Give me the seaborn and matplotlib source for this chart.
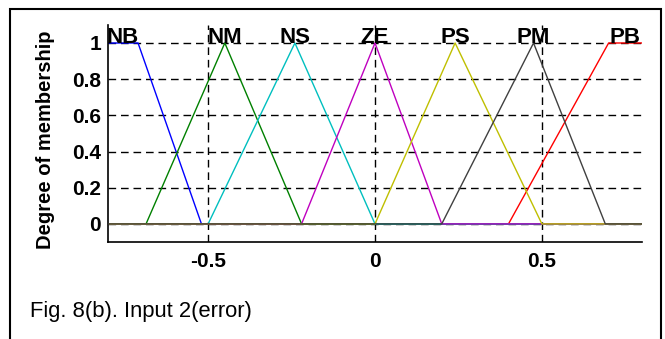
import matplotlib
matplotlib.use("Agg")
import matplotlib.pyplot as plt
import seaborn as sns
import pandas as pd
from matplotlib.patches import Rectangle

# ---- data (membership function breakpoints) ----
mf_names = ["NB", "NM", "NS", "ZE", "PS", "PM", "PB"]
nb_x = [-0.8, -0.71, -0.52, 0.8]
nb_y = [1, 1, 0, 0]
nm_x = [-0.8, -0.686, -0.45, -0.22, 0.8]
nm_y = [0, 0, 1, 0, 0]
ns_x = [-0.8, -0.5, -0.24, 0.0, 0.8]
ns_y = [0, 0, 1, 0, 0]
ze_x = [-0.8, -0.22, 0.0, 0.2, 0.8]
ze_y = [0, 0, 1, 0, 0]
ps_x = [-0.8, 0.0, 0.24, 0.5, 0.8]
ps_y = [0, 0, 1, 0, 0]
pm_x = [-0.8, 0.2, 0.475, 0.69, 0.8]
pm_y = [0, 0, 1, 0, 0]
pb_x = [-0.8, 0.4, 0.7, 0.8]
pb_y = [0, 0, 1, 1]

x_ticks = [-0.5, 0, 0.5]
x_ticklabels = ["-0.5", "0", "0.5"]
y_ticks = [0, 0.2, 0.4, 0.6, 0.8, 1]
y_ticklabels = ["0", "0.2", "0.4", "0.6", "0.8", "1"]
y_label = "Degree of membership"
caption = "Fig. 8(b). Input 2(error)"

mf_x = [nb_x, nm_x, ns_x, ze_x, ps_x, pm_x, pb_x]
mf_y = [nb_y, nm_y, ns_y, ze_y, ps_y, pm_y, pb_y]
colors = {"NB": (0, 0, 1), "NM": (0, 0.5, 0), "NS": (0, 0.75, 0.75),
          "ZE": (0.75, 0, 0.75), "PS": (0.75, 0.75, 0), "PM": (0.25, 0.25, 0.25),
          "PB": (1, 0, 0)}
zorders = {"PB": 2.0, "NB": 2.1, "NM": 2.2, "NS": 2.3, "ZE": 2.4, "PS": 2.5, "PM": 2.6}

frames = []
for name, xs, ys in zip(mf_names, mf_x, mf_y):
    frames.append(pd.DataFrame({"x": xs, "mu": ys, "mf": name, "order": range(len(xs))}))
df = pd.concat(frames, ignore_index=True)

sns.set_style("white")
plt.rcParams["font.family"] = ["Liberation Sans", "DejaVu Sans"]
plt.rcParams["text.color"] = "black"
plt.rcParams["axes.labelcolor"] = "black"
plt.rcParams["xtick.color"] = "black"
plt.rcParams["ytick.color"] = "black"

fig = plt.figure(figsize=(6.65, 3.39), dpi=100)
ax = fig.add_axes([108 / 665, 1 - 242 / 339, (642 - 108) / 665, (242 - 24.9) / 339])

for name in mf_names:
    sub = df[df["mf"] == name]
    sns.lineplot(data=sub, x="x", y="mu", sort=False, color=colors[name],
                 linewidth=1.0, ax=ax, zorder=zorders[name], estimator=None)
    peak = sub[sub["mu"] == 1]["x"].mean()
    ax.text(peak, 1.0, name, ha="center", va="baseline", fontsize=16,
            fontweight="bold", color="black", zorder=5)

ax.set_xlim(-0.8, 0.8)
ax.set_ylim(-0.1, 1.1)
ax.set_xticks(x_ticks)
ax.set_xticklabels(x_ticklabels, fontsize=15, fontweight="bold", color="black")
ax.set_yticks(y_ticks)
ax.set_yticklabels(y_ticklabels, fontsize=15, fontweight="bold", color="black")
ax.set_xlabel("")
ax.set_ylabel(y_label, fontsize=14.5, fontweight="bold", color="black")
ax.yaxis.set_label_coords(-0.099, 0.47)
ax.tick_params(axis="both", direction="in", length=3, width=1, colors="black")
ax.tick_params(axis="x", pad=7)
ax.tick_params(axis="y", pad=5)
ax.grid(True, color="black", linestyle=(0, (5.5, 3.5)), linewidth=1.0)
ax.set_axisbelow(True)
for s in ["top", "right"]:
    ax.spines[s].set_visible(False)
for s in ["left", "bottom"]:
    ax.spines[s].set_color("black")
    ax.spines[s].set_linewidth(1.2)
ax.set_facecolor("white")

fig.text(30 / 665, 1 - 317 / 339, caption, fontsize=15.8, ha="left", va="baseline",
         color="black")

border = Rectangle((9.5 / 665, -0.05), (661 - 9.5) / 665, 1.05 - 9 / 339,
                   transform=fig.transFigure, fill=False, edgecolor="black",
                   linewidth=1.5, zorder=10)
fig.patches.append(border)

fig.savefig("out.png", dpi=100)
